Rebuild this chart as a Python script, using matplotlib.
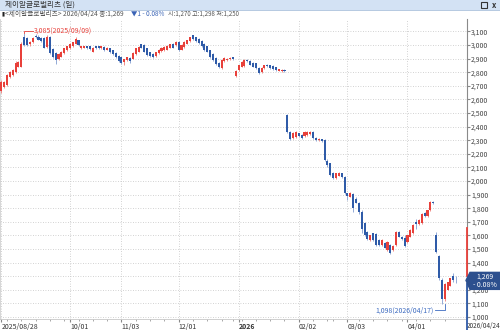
import numpy as np
import pandas as pd
import matplotlib
matplotlib.use("Agg")
import matplotlib.pyplot as plt
import matplotlib.transforms as mtransforms
from matplotlib.patches import Rectangle, Polygon

plt.rcParams['font.family'] = ['Noto Sans CJK KR', 'DejaVu Sans']

# trading days (KRX holidays removed)
holidays = ['2025-10-03', '2025-10-06', '2025-10-07', '2025-10-08', '2025-10-09',
            '2025-12-25', '2025-12-31', '2026-01-01', '2026-02-16', '2026-02-17',
            '2026-02-18', '2026-03-02']
dates = pd.bdate_range('2025-08-28', '2026-04-24')
dates = dates[~dates.isin(pd.to_datetime(holidays))]

opens = [2660, 2690, 2705, 2765, 2780, 2800, 2840, 2840, 3060, 3050,
         3005, 3020, 3065, 3060, 3050, 3050, 2985, 3060, 2970, 2940,
         2900, 2915, 2940, 2960, 2975, 2990, 3010, 3035, 2975, 2980,
         2990, 2990, 2950, 2990, 2990, 2975, 2985, 2965, 2975, 2960,
         2940, 2920, 2910, 2875, 2890, 2905, 2900, 2930, 2950, 3005,
         3000, 2975, 2945, 2935, 2920, 2940, 2955, 2960, 2965, 2980,
         3010, 3000, 3025, 2965, 2985, 3010, 3030, 3070, 3055, 3045,
         3030, 3010, 2990, 2960, 2935, 2905, 2870, 2830, 2880, 2890,
         2895, 2910, 2772, 2815, 2840, 2845, 2890, 2885, 2870, 2865,
         2830, 2800, 2830, 2855, 2850, 2845, 2835, 2810, 2808, 2815,
         2485, 2360, 2315, 2320, 2350, 2340, 2330, 2335, 2345, 2360,
         2315, 2298, 2305, 2300, 2150, 2130, 2060, 2020, 2040, 2055,
         2030, 1910, 1885, 1905, 1870, 1840, 1770, 1690, 1625, 1566,
         1615, 1610, 1565, 1530, 1545, 1490, 1530, 1490, 1530, 1625,
         1590, 1580, 1550, 1590, 1615, 1700, 1680, 1690, 1765, 1740,
         1785, 1845, 1600, 1450, 1270, 1130, 1200, 1230, 1300, 1270]
highs = [2740, 2735, 2790, 2810, 2825, 2880, 2885, 3020, 3085, 3060,
         3030, 3055, 3080, 3070, 3060, 3060, 3070, 3065, 2980, 2945,
         2940, 2955, 2980, 2995, 3015, 3025, 3060, 3040, 2995, 2995,
         2995, 2995, 2985, 2995, 2995, 2995, 2990, 2985, 2980, 2965,
         2945, 2925, 2915, 2900, 2915, 2915, 2945, 2980, 2990, 3010,
         3005, 2980, 2950, 2940, 2950, 2970, 2985, 2990, 3000, 3010,
         3015, 3030, 3030, 3005, 3030, 3040, 3060, 3075, 3060, 3050,
         3035, 3015, 2995, 2965, 2940, 2910, 2875, 2895, 2910, 2905,
         2910, 2915, 2815, 2855, 2880, 2895, 2895, 2890, 2875, 2870,
         2835, 2835, 2855, 2860, 2855, 2850, 2840, 2825, 2822, 2820,
         2490, 2365, 2360, 2365, 2355, 2345, 2365, 2365, 2368, 2365,
         2320, 2315, 2310, 2305, 2160, 2135, 2065, 2060, 2065, 2060,
         2035, 1915, 1920, 1910, 1880, 1845, 1790, 1695, 1630, 1605,
         1620, 1615, 1570, 1570, 1550, 1555, 1535, 1530, 1630, 1630,
         1595, 1600, 1605, 1645, 1680, 1720, 1720, 1765, 1770, 1790,
         1855, 1850, 1625, 1455, 1290, 1250, 1260, 1290, 1320, 1298]
lows = [2650, 2680, 2700, 2760, 2775, 2795, 2835, 2835, 2990, 2995,
        2995, 3015, 3050, 3035, 3025, 2975, 2980, 2935, 2905, 2860,
        2890, 2910, 2935, 2955, 2970, 2985, 3005, 2995, 2970, 2975,
        2970, 2965, 2945, 2970, 2970, 2970, 2955, 2960, 2940, 2925,
        2905, 2875, 2860, 2850, 2885, 2870, 2895, 2925, 2945, 2975,
        2945, 2920, 2915, 2905, 2915, 2935, 2950, 2955, 2960, 2975,
        2975, 2995, 2955, 2960, 2980, 3005, 3025, 3040, 3025, 3010,
        2985, 2955, 2945, 2905, 2885, 2855, 2830, 2825, 2875, 2885,
        2890, 2890, 2765, 2810, 2835, 2840, 2875, 2850, 2835, 2825,
        2790, 2795, 2825, 2840, 2825, 2815, 2810, 2805, 2803, 2800,
        2355, 2300, 2310, 2315, 2325, 2310, 2325, 2330, 2340, 2310,
        2295, 2293, 2290, 2150, 2100, 2040, 2015, 2015, 2035, 2025,
        1905, 1860, 1880, 1775, 1835, 1760, 1620, 1595, 1565, 1560,
        1560, 1525, 1525, 1525, 1505, 1485, 1460, 1485, 1525, 1585,
        1565, 1515, 1545, 1585, 1610, 1650, 1675, 1685, 1735, 1735,
        1780, 1830, 1470, 1270, 1098, 1115, 1195, 1225, 1260, 1250]
closes = [2730, 2725, 2780, 2800, 2815, 2870, 2875, 3010, 3000, 3000,
          3025, 3050, 3055, 3040, 3030, 2980, 3060, 2940, 2910, 2890,
          2935, 2950, 2975, 2990, 3010, 3020, 3045, 3000, 2990, 2990,
          2975, 2970, 2980, 2975, 2975, 2990, 2960, 2980, 2945, 2930,
          2910, 2880, 2865, 2895, 2910, 2880, 2940, 2975, 2985, 2980,
          2950, 2925, 2920, 2910, 2945, 2965, 2980, 2985, 2995, 3005,
          2980, 3025, 2960, 3000, 3025, 3035, 3055, 3045, 3030, 3015,
          2990, 2960, 2950, 2910, 2890, 2860, 2835, 2890, 2905, 2900,
          2905, 2895, 2810, 2850, 2875, 2890, 2880, 2855, 2840, 2830,
          2795, 2830, 2850, 2845, 2830, 2820, 2815, 2820, 2818, 2805,
          2360, 2310, 2355, 2360, 2330, 2315, 2360, 2360, 2362, 2315,
          2300, 2310, 2295, 2155, 2120, 2045, 2020, 2055, 2060, 2030,
          1910, 1890, 1915, 1800, 1840, 1775, 1650, 1600, 1570, 1600,
          1566, 1530, 1530, 1565, 1510, 1550, 1470, 1525, 1625, 1590,
          1570, 1520, 1600, 1640, 1675, 1680, 1715, 1760, 1740, 1785,
          1845, 1835, 1480, 1290, 1130, 1240, 1255, 1285, 1270, 1269]

tick_dates = ['2025-08-28', '2025-10-01', '2025-11-03', '2025-12-01',
              '2026-01-02', '2026-02-02', '2026-03-03', '2026-04-01']
tick_labels = ['2025/08/28', '10/01', '11/03', '12/01', '2026', '02/02', '03/03', '04/01']
price_ticks = list(range(1000, 3101, 100))

RED = '#e8403a'
RED_W = '#f08c88'
BLUE = '#2f5ba8'
BLUE_W = '#93aad6'

W, H = 500, 330
fig = plt.figure(figsize=(W / 100, H / 100), dpi=100)


def fx(px):
    return px / W


def fy(py):
    return 1 - py / H


ax = fig.add_axes([0, fy(319), fx(467), fy(19) - fy(319)])
y_lo = 985
y_hi = y_lo + 300 / 0.136
ax.set_ylim(y_lo, y_hi)
ax.set_xlim(-0.45, 162.8)

x = np.arange(len(closes))
o = np.array(opens)
c = np.array(closes)
hi = np.array(highs)
lo = np.array(lows)
up = c > o

ax.vlines(x, lo, hi, colors=np.where(up, RED_W, BLUE_W), lw=0.7, zorder=2)
ax.bar(x, np.maximum(np.abs(c - o), 5), bottom=np.minimum(o, c), width=0.72,
       color=np.where(up, RED, BLUE), lw=0, zorder=3)

# ticks and grid
tick_pos = [dates.get_loc(pd.Timestamp(d)) for d in tick_dates]
ax.set_xticks(tick_pos)
ax.set_xticklabels(tick_labels, ha='left')
week_start = [i for i in range(1, len(dates)) if dates[i].weekday() < dates[i - 1].weekday()]
ax.set_xticks(week_start, minor=True)
for lab in ax.get_xticklabels():
    if lab.get_text() == '2026':
        lab.set_fontweight('bold')
ax.tick_params(axis='x', which='major', direction='out', length=2, pad=1,
               labelsize=5, colors='#888', labelcolor='#333')
ax.tick_params(axis='x', which='minor', direction='out', length=1.5, colors='#999')

ax.yaxis.tick_right()
ax.set_yticks(price_ticks)
# the 1,300 label sits under the current price box
ax.set_yticklabels(['' if p == 1300 else f'{p:,}' for p in price_ticks])
ax.tick_params(axis='y', direction='out', length=2, pad=1, labelsize=5,
               colors='#888', labelcolor='#444')

ax.grid(True, linestyle=(0, (1, 2)), color='#c4c4c4', lw=0.6)
ax.set_axisbelow(True)
ax.spines['top'].set_visible(False)
ax.spines['left'].set_color('#d0d0d0')
ax.spines['bottom'].set_color('#c8c8c8')
ax.spines['right'].set_color('#8a8a8a')
ax.spines['left'].set_linewidth(0.6)
ax.spines['bottom'].set_linewidth(0.6)
ax.spines['right'].set_linewidth(0.8)

# coloured range on the price axis
tr = mtransforms.blended_transform_factory(ax.transAxes, ax.transData)
ax.plot([1, 1], [1655, 1300], color=RED, lw=1.3, transform=tr, clip_on=False, zorder=5)
ax.plot([1, 1], [1245, 900], color=BLUE, lw=1.3, transform=tr, clip_on=False, zorder=5)

# high / low markers
i_hi = int(np.argmax(hi))
i_lo = int(np.argmin(lo))
ax.plot([i_hi, i_hi, i_hi + 3.2], [hi[i_hi], hi[i_hi] + 20, hi[i_hi] + 20], color=RED, lw=0.6)
ax.text(i_hi + 3.4, hi[i_hi] + 20, f'{hi[i_hi]:,}({dates[i_hi]:%Y/%m/%d})', color=RED,
        fontsize=5, ha='left', va='center')
ax.plot([i_lo + 1, i_lo + 1, i_lo - 2.5], [lo[i_lo] - 5, lo[i_lo] - 50, lo[i_lo] - 50],
        color='#3d6bc0', lw=0.6)
ax.text(i_lo - 2.7, lo[i_lo] - 50, f'{lo[i_lo]:,}({dates[i_lo]:%Y/%m/%d})', color='#3d6bc0',
        fontsize=5, ha='right', va='center')

# last date label at axis end
ax.text(1.0, -0.01, f'{dates[-1]:%Y/%m/%d}', transform=ax.transAxes, fontsize=4.6,
        color='#333', ha='left', va='top')

# current price box
box_y = ax.transData.transform((0, c[-1]))[1]
by = H - box_y
fig.patches.append(Polygon([(fx(466), fy(by)), (fx(470), fy(by - 8)), (fx(500), fy(by - 8)),
                            (fx(500), fy(by + 9)), (fx(470), fy(by + 9))],
                           closed=True, transform=fig.transFigure, color='#2c4f8e', zorder=6))
chg = (c[-1] - c[-2]) / c[-2] * 100
fig.text(fx(485), fy(by - 3.8), f'{c[-1]:,}', color='white', fontsize=5, ha='center', va='center', zorder=7)
fig.text(fx(485), fy(by + 4.2), f'- {abs(chg):.2f}%', color='white', fontsize=5, ha='center', va='center', zorder=7)

# window title bar
fig.patches.append(Rectangle((0, fy(10)), 1, 1 - fy(10), transform=fig.transFigure,
                             facecolor='#d3e2f4', edgecolor='none', zorder=0))
fig.add_artist(plt.Line2D([0, 1], [fy(10), fy(10)], transform=fig.transFigure, color='#a9c0dc', lw=0.6))
fig.text(fx(5), fy(5), '제이알글로벌리츠 (일)', fontsize=5.5, color='#333', va='center')
fig.patches.append(Rectangle((fx(481), fy(8)), fx(6), fy(2) - fy(8), transform=fig.transFigure,
                             facecolor='none', edgecolor='#333', lw=0.8))
fig.text(fx(494), fy(5), 'x', fontsize=5.5, color='#333', va='center', ha='center', fontweight='bold')

# info line
fig.text(fx(2), fy(14), '▮', fontsize=4, color='#222', va='center', family=['DejaVu Sans'])
fig.text(fx(5), fy(14), f'<제이알글로벌리츠> {dates[-1]:%Y/%m/%d} 종:{c[-1]:,}', fontsize=4.8,
         color='#555', va='center')
fig.text(fx(131), fy(14), f'▼{c[-2] - c[-1]} - {abs(chg):.2f}%', fontsize=4.6, color='#3a63b5', va='center')
fig.text(fx(168), fy(14), f'시:{o[-1]:,} 고:{hi[-1]:,} 저:{lo[-1]:,}', fontsize=4.4,
         color='#555', va='center')

fig.savefig('out.png', dpi=100)
